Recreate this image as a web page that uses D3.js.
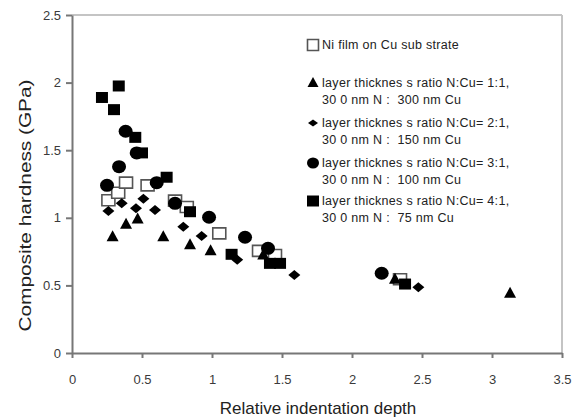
<!DOCTYPE html>
<html>
<head>
<meta charset="utf-8">
<script src="https://cdn.jsdelivr.net/npm/d3@7"></script>
<style>
  html, body { margin: 0; padding: 0; background: #fff; }
  svg { display: block; font-family: "Liberation Sans", Arial, sans-serif; }
</style>
</head>
<body>
<svg id="chart" width="576" height="417"></svg>
<script>
// ---- data ----
const xTicks = [0, 0.5, 1, 1.5, 2, 2.5, 3, 3.5];
const xTickLabels = ["0", "0.5", "1", "1.5", "2", "2.5", "3", "3.5"];
const yTicks = [0, 0.5, 1, 1.5, 2, 2.5];
const yTickLabels = ["0", "0.5", "1", "1.5", "2", "2.5"];

const niFilm = [[0.26,1.13],[0.33,1.185],[0.386,1.26],[0.54,1.24],[0.736,1.127],[0.82,1.08],[1.052,0.885],[1.336,0.755],[1.45,0.725],[2.343,0.545]];
const ratio11 = [[0.29,0.86],[0.386,0.952],[0.469,0.99],[0.652,0.86],[0.843,0.80],[0.99,0.755],[1.366,0.725],[2.307,0.545],[3.129,0.441]];
const ratio21 = [[0.26,1.05],[0.355,1.107],[0.457,1.07],[0.51,1.14],[0.593,1.058],[0.795,0.934],[0.926,0.865],[1.18,0.69],[1.588,0.577],[2.474,0.486]];
const ratio31 = [[0.25,1.24],[0.336,1.378],[0.383,1.64],[0.462,1.48],[0.605,1.26],[0.736,1.107],[0.979,1.004],[1.236,0.856],[1.40,0.774],[2.212,0.59]];
const ratio41 = [[0.214,1.89],[0.30,1.80],[0.334,1.975],[0.452,1.595],[0.50,1.48],[0.676,1.30],[0.843,1.045],[1.14,0.73],[1.414,0.663],[1.486,0.663],[2.379,0.51]];

const legendLines = [
  ["Ni film on Cu sub strate"],
  ["layer thicknes s ratio N:Cu= 1:1,", "30 0 nm N :  300 nm Cu"],
  ["layer thicknes s ratio N:Cu= 2:1,", "30 0 nm N :  150 nm Cu"],
  ["layer thicknes s ratio N:Cu= 3:1,", "30 0 nm N :  100 nm Cu"],
  ["layer thicknes s ratio N:Cu= 4:1,", "30 0 nm N :  75 nm Cu"]
];
const xTitle = "Relative indentation depth";
const yTitle = "Composite hardness (GPa)";

// ---- shapes ----
function sq(w, h) { return `M${-w/2},${-h/2}h${w}v${h}h${-w}Z`; }
function tri(w, h) { return `M0,${-h*0.6}L${w/2},${h*0.4}L${-w/2},${h*0.4}Z`; }
function dia(w, h) { return `M0,${-h/2}L${w/2},0L0,${h/2}L${-w/2},0Z`; }
function ell(rx, ry) { return `M${-rx},0A${rx},${ry} 0 1,0 ${rx},0A${rx},${ry} 0 1,0 ${-rx},0Z`; }

const series = [
  { data: niFilm, path: sq(13, 11), fill: "#fff", stroke: "#555", sw: 1.6, lpath: sq(11, 11) },
  { data: ratio11, path: tri(12, 11), fill: "#000", stroke: "none", sw: 0, lpath: tri(11, 10) },
  { data: ratio21, path: dia(12, 10), fill: "#000", stroke: "none", sw: 0, lpath: dia(10, 7) },
  { data: ratio31, path: ell(7, 6.5), fill: "#000", stroke: "none", sw: 0, lpath: ell(6, 5.5) },
  { data: ratio41, path: sq(12, 11), fill: "#000", stroke: "none", sw: 0, lpath: sq(12, 11) }
];

// ---- chart ----
const svg = d3.select("#chart");
const x = d3.scaleLinear().domain([0, 3.5]).range([72, 562]);
const y = d3.scaleLinear().domain([0, 2.5]).range([353, 15]);

// frame top/right
svg.append("line").attr("x1", x(0)).attr("x2", x(3.5)).attr("y1", y(2.5)).attr("y2", y(2.5))
  .attr("stroke", "#c4c4c4").attr("stroke-width", 2);
svg.append("line").attr("x1", x(3.5)).attr("x2", x(3.5)).attr("y1", y(2.5)).attr("y2", y(0))
  .attr("stroke", "#c4c4c4").attr("stroke-width", 2);

const xAxis = svg.append("g").attr("transform", `translate(0,${y(0)})`)
  .call(d3.axisBottom(x).tickValues(xTicks).tickSize(5).tickSizeOuter(0)
    .tickFormat((d, i) => xTickLabels[i]));
const yAxis = svg.append("g").attr("transform", `translate(${x(0)},0)`)
  .call(d3.axisLeft(y).tickValues(yTicks).tickSize(6).tickSizeOuter(0)
    .tickFormat((d, i) => yTickLabels[i]));

[xAxis, yAxis].forEach(g => {
  g.select(".domain").attr("stroke", "#777").attr("stroke-width", 2);
  g.selectAll(".tick line").attr("stroke", "#777").attr("stroke-width", 2);
  g.selectAll(".tick text").attr("fill", "#3a3a3a").style("font-size", "13px")
    .style("font-family", "'Liberation Sans', Arial, sans-serif");
});
xAxis.selectAll(".tick text").attr("dy", null).attr("y", 31);
yAxis.selectAll(".tick text").attr("x", -11);

// titles
svg.append("text").attr("x", 318).attr("y", 414).attr("text-anchor", "middle")
  .attr("fill", "#222").style("font-size", "17px").text(xTitle);
svg.append("text").attr("transform", `translate(31,${(78 + 333) / 2}) rotate(-90)`)
  .attr("text-anchor", "middle").attr("fill", "#222").style("font-size", "17px")
  .attr("textLength", 252).attr("lengthAdjust", "spacingAndGlyphs").text(yTitle);

// points
const plot = svg.append("g");
series.forEach(s => {
  plot.append("g").selectAll("path").data(s.data).join("path")
    .attr("d", s.path)
    .attr("transform", d => `translate(${x(d[0])},${y(d[1])})`)
    .attr("fill", s.fill).attr("stroke", s.stroke).attr("stroke-width", s.sw);
});

// legend
const legendY = [[49], [87, 104], [127, 144], [167, 184], [205, 222]];
const legend = svg.append("g");
series.forEach((s, i) => {
  legend.append("path").attr("d", s.lpath)
    .attr("transform", `translate(313,${legendY[i][0] - 4})`)
    .attr("fill", s.fill).attr("stroke", s.stroke).attr("stroke-width", s.sw);
  legendLines[i].forEach((t, j) => {
    legend.append("text").attr("x", 322).attr("y", legendY[i][j])
      .attr("fill", "#222").style("font-size", "12.5px").style("letter-spacing", "0.3px")
      .style("white-space", "pre").text(t);
  });
});
</script>
</body>
</html>
